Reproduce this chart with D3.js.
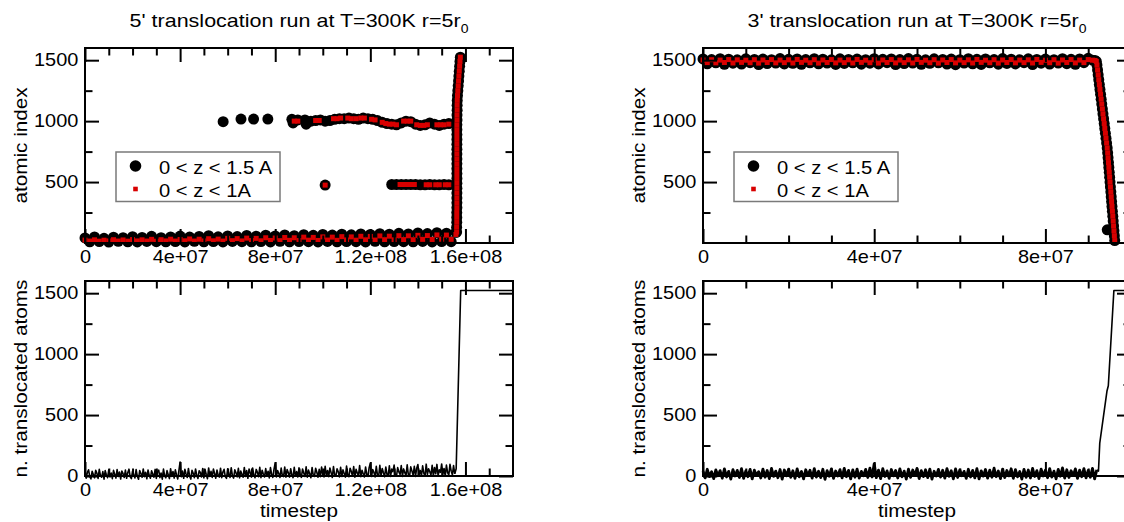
<!DOCTYPE html>
<html>
<head>
<meta charset="utf-8">
<script src="https://cdn.jsdelivr.net/npm/d3@7"></script>
<style>
  body { margin: 0; background: #fff; }
  svg { display: block; }
</style>
</head>
<body>
<svg id="chart" width="1124" height="522"></svg>
<script>
/*=================================
	DATA (time in units of 1e6 steps)
**===============================*/

var titles = ["5' translocation run at T=300K r=5r", "3' translocation run at T=300K r=5r"];
var legendLabels = ["0 < z < 1.5 A", "0 < z < 1A"];

var xTicks5 = [0, 40, 80, 120, 160],
	xTickLabels5 = ["0", "4e+07", "8e+07", "1.2e+08", "1.6e+08"];
var xTicks3 = [0, 40, 80],
	xTickLabels3 = ["0", "4e+07", "8e+07"];
var yTicksTop = [500, 1000, 1500],
	yTicksBot = [0, 500, 1000, 1500];

//5' run, atoms inside the pore, bottom band sampled every 2e6 steps
var band5Step = 2;
var black5 = [42, 10, 50, 12, 38, 8, 48, 14, 44, 10,
	52, 9, 46, 13, 55, 11, 43, 10, 50, 12,
	57, 9, 49, 14, 54, 10, 60, 12, 51, 9,
	58, 13, 53, 11, 62, 10, 56, 12, 64, 9,
	58, 14, 66, 10, 60, 12, 68, 11, 63, 9,
	70, 13, 65, 10, 72, 12, 67, 11, 74, 9,
	70, 14, 76, 10, 72, 12, 79, 11, 74, 10,
	82, 13, 77, 9, 85, 12, 80, 11, 88];
var red5 = [24, 16, 26, 15, 23, 17, 27, 16, 25, 15,
	28, 17, 26, 16, 30, 15, 27, 17, 31, 16,
	29, 18, 33, 16, 31, 17, 35, 18, 32, 16,
	38, 19, 36, 17, 40, 20, 38, 18, 43, 21,
	41, 19, 45, 22, 43, 20, 48, 23, 46, 21,
	50, 24, 48, 22, 52, 25, 50, 23, 55, 26,
	54, 24, 58, 27, 56, 26, 60, 28, 59, 27,
	63, 30, 61, 29, 66, 31, 65, 30, 70];
//the translocation jump
var rise5 = [[156.3,90],[156.3,130],[156.35,170],[156.35,210],[156.35,250],[156.4,290],[156.4,330],[156.4,370],
	[156.4,410],[156.4,450],[156.4,490],[156.4,530],[156.4,570],[156.4,610],[156.4,650],[156.4,690],[156.4,730],
	[156.4,770],[156.4,810],[156.4,850],[156.4,890],[156.4,930],[156.4,970],[156.45,1010],[156.45,1050],
	[156.5,1090],[156.5,1130],[156.55,1170],[156.65,1210],[156.8,1250],[156.95,1290],[157.1,1330],
	[157.25,1370],[157.4,1410],[157.55,1450],[157.7,1490],[157.85,1525]];
//side groups near index 1000 and 480
var black1000 = [[58.1,995],[65.6,1017],[70.9,1017],[76.9,1017],[87,1015],[87.5,985],[89.5,1010],[92.5,1010],
	[93,975],[95,1000],[97,1005],[99,1010],[101,1000],[103,1005],[105,1015],[107,1020],[109,1020],[111,1025],
	[113,1020],[115,1015],[117,1025],[119,1020],[121,1015],[123,1005],[125,990],[127,980],[129,975],[131,970],
	[133,985],[135,1000],[137,995],[139,975],[141,965],[143,970],[145,985],[147,975],[149,965],[151,975],[153,980]];
var red1000 = [[88,1000],[89.5,1000],[97,1005],[98.5,1005],[104.5,1020],[106,1020],[107.5,1025],[110.5,1025],
	[112,1020],[114,1020],[116,1025],[117.5,1025],[120.5,1015],[122,1010],[125,990],[126.5,980],[128,975],
	[129.5,975],[131,970],[134,1000],[135.5,1000],[137,1000],[139.5,970],[141,965],[142.5,965],[144,970],
	[148,970],[149.5,970],[151,970],[153,975]];
var black480 = [[101,475],[129,480],[131,480],[133,480],[135,480],[137,480],[139,480],[141,478],[143,478],
	[145,480],[147,478],[149,478],[151,480],[153,478]];
var red480 = [[101,475],[132.5,480],[134,480],[135.5,480],[137,480],[138.5,480],[143.5,478],[145,478],
	[147.5,478],[149,478],[151.5,478],[153,478]];

//3' run, top band sampled every 1e6 steps
var band3Step = 1;
var black3 = [1510, 1470, 1505, 1478, 1512, 1466, 1508, 1475, 1503, 1468,
	1511, 1480, 1506, 1464, 1509, 1472, 1504, 1477, 1513, 1469,
	1507, 1474, 1510, 1466, 1505, 1479, 1512, 1470, 1508, 1476,
	1503, 1465, 1511, 1473, 1506, 1478, 1509, 1467, 1504, 1475,
	1512, 1469, 1507, 1480, 1510, 1464, 1505, 1472, 1513, 1477,
	1508, 1466, 1503, 1474, 1511, 1479, 1506, 1468, 1509, 1463,
	1504, 1476, 1512, 1470, 1507, 1465, 1510, 1478, 1505, 1467,
	1513, 1473, 1508, 1469, 1503, 1480, 1511, 1464, 1506, 1475,
	1509, 1468, 1504, 1477, 1512, 1471, 1507, 1466, 1510, 1480,
	1515];
var red3 = [1502, 1480, 1504, 1478, 1501, 1481, 1505, 1477, 1503, 1482,
	1500, 1479, 1504, 1476, 1502, 1481, 1505, 1478, 1501, 1480,
	1503, 1477, 1506, 1482, 1500, 1479, 1504, 1476, 1502, 1481,
	1505, 1478, 1501, 1480, 1503, 1477, 1506, 1482, 1500, 1479,
	1504, 1476, 1502, 1481, 1505, 1478, 1501, 1480, 1503, 1477,
	1506, 1482, 1500, 1479, 1504, 1476, 1502, 1481, 1505, 1478,
	1501, 1480, 1503, 1477, 1506, 1482, 1500, 1479, 1504, 1476,
	1502, 1481, 1505, 1478, 1501, 1480, 1503, 1477, 1506, 1482,
	1500, 1479, 1504, 1476, 1502, 1481, 1505, 1478, 1501, 1480,
	1505];
var drop3 = [[91,1500],[91.6,1498],[91.9,1490],[92.05,1460],[92.19,1420],[92.33,1380],[92.47,1340],[92.61,1300],
	[92.75,1260],[92.89,1220],[93.03,1180],[93.17,1140],[93.31,1100],[93.45,1060],[93.6,1020],[93.74,980],
	[93.88,940],[94.02,900],[94.16,860],[94.3,820],[94.44,780],[94.55,740],[94.64,700],[94.74,660],[94.83,620],
	[94.92,580],[95.01,540],[95.1,500],[95.19,460],[95.29,420],[95.38,380],[95.47,340],[95.56,300],[95.65,260],
	[95.75,220],[95.84,180],[95.93,140],[96.02,100],[96.11,60],[96.2,20]];
var stray3 = [[94.45,108]];

//number of translocated atoms, 5' run (every 5e5 steps) then the jump
var noise5Step = 0.5;
var noise5 = [42,-18,30,51,-6,-24,38,12,-15,47,22,-20,55,3,-10,36,-26,44,8,-14,
	50,-8,25,-22,46,14,-17,53,-4,33,-25,41,19,-12,48,-19,28,56,-7,-21,
	39,10,-16,52,-2,-27,45,20,-11,58,-5,31,-23,49,6,-18,42,15,-9,54,
	-20,35,48,-13,24,-26,57,2,-15,44,11,-21,60,-3,37,-17,50,9,-24,46,
	115,-6,40,-19,55,16,-12,62,-1,-25,47,23,-14,58,5,-20,43,29,-8,61,
	-16,52,13,-22,66,-3,38,-11,57,21,-18,49,7,-9,64,-14,33,55,-5,-20,
	59,18,-12,68,1,-17,51,26,-7,63,-15,40,12,-10,70,-4,45,-19,58,24,
	-9,66,8,-14,54,30,-6,72,-13,47,16,-8,61,-2,39,-16,69,11,-11,57,
	108,-7,44,20,-12,65,3,-5,74,-10,52,27,-9,60,9,-13,71,-1,36,-8,
	67,14,-11,58,25,-4,76,-9,48,18,-14,70,6,-3,63,31,-10,55,-6,73,
	12,-8,80,2,45,-5,66,28,-12,78,5,-2,59,34,-7,72,-4,50,21,-9,
	82,8,-6,64,37,-1,77,-10,55,24,3,85,-5,46,19,-8,74,11,-3,68,
	105,-4,52,30,-7,79,8,-2,88,0,61,26,-6,74,14,-1,84,-3,57,35,
	90,5,-2,69,33,12,86,-4,58,28,3,92,8,-1,75,40,6,80,-3,64,
	94,10,44,0,83,22,-2,97,12,60,35,6,88,-1,70,18,95,2,51,30,
	99,14,62,-2,90,28,8,96,40,10,85,18];
var tail5T = [156.1, 158.0, 180],
	tail5N = [60, 1522, 1522];

//number of translocated atoms, 3' run (every 5e5 steps) then the jump
var noise3Step = 0.5;
var noise3 = [40, -15, 55, -5, 35, -22, 50, 2, 44, -18,
	58, -8, 38, -25, 52, 0, 46, -12, 60, -20,
	42, -6, 54, -24, 48, 4, 36, -16, 57, -10,
	45, -21, 62, -3, 40, -14, 53, -26, 49, 1,
	56, -11, 43, -19, 59, -7, 37, -23, 51, 3,
	47, -17, 61, -9, 39, -13, 55, -27, 44, -2,
	58, -20, 41, 0, 52, -15, 63, -6, 46, -24,
	50, -10, 57, -18, 38, 2, 54, -12, 65, -8,
	100, -14, 48, -22, 60, -4, 42, -19, 53, 1,
	45, -16, 59, -7, 40, -25, 56, -11, 49, 3,
	62, -21, 44, -5, 51, -13, 57, -26, 39, 0,
	54, -9, 47, -17, 61, -3, 43, -23, 58, -12,
	50, 2, 38, -20, 55, -8, 46, -15, 60, -24,
	42, -1, 53, -18, 48, -10, 64, -6, 41, -22,
	56, -13, 45, 1, 59, -19, 52, -7, 37, -25,
	55, -11, 49, -16, 62, -4, 44, -21, 57, 0,
	47, -14, 60, -9, 40, -23, 54, -2, 66, -17,
	51, -12, 43, 3, 58, -20, 48, -6, 61, -15,
	45, -10, 63, -24, 50];
var tail3T = [92.4, 92.7, 94.4, 94.7, 96.0, 100.5],
	tail3N = [40, 270, 700, 740, 1522, 1522];

/*=================================
	SETUP
**===============================*/

var FONT = '"Liberation Sans", Arial, Helvetica, sans-serif';
var K = 1.12; //the picture's lettering is a bit wider than plain Helvetica
var RED = "#d80000";

var svg = d3.select("#chart").attr("font-family", FONT);

var x5 = d3.scaleLinear().domain([0, 180]).range([85, 513]),
	x3 = d3.scaleLinear().domain([0, 100]).range([703, 1131]),
	yTop = d3.scaleLinear().domain([0, 1600]).range([243, 48]),
	yBot = d3.scaleLinear().domain([0, 1600]).range([476, 281]);

var minorX5 = d3.range(10, 180, 10).filter(function(d) { return d % 40 !== 0; }),
	minorX3 = d3.range(10, 100, 10).filter(function(d) { return d % 40 !== 0; }),
	minorY = [250, 750, 1250];

//turn a flat list sampled every `step` into [t, value] pairs
function sampled(values, step) {
	return values.map(function(v, i) { return [i * step, v]; });
}

/*=================================
	MARKERS & LINES
**===============================*/

function circles(x, y, pts) {
	svg.append("g").selectAll("circle").data(pts).join("circle")
		.attr("cx", function(d) { return x(d[0]); })
		.attr("cy", function(d) { return y(d[1]); })
		.attr("r", 5.5)
		.attr("fill", "#000");
}

function squares(x, y, pts) {
	var s = 5;
	svg.append("g").selectAll("rect").data(pts).join("rect")
		.attr("x", function(d) { return x(d[0]) - s / 2; })
		.attr("y", function(d) { return y(d[1]) - s / 2; })
		.attr("width", s).attr("height", s)
		.attr("fill", RED);
}

function trace(x, y, pts, w) {
	svg.append("path").datum(pts)
		.attr("fill", "none").attr("stroke", "#000").attr("stroke-width", w)
		.attr("stroke-linejoin", "round")
		.attr("d", d3.line().x(function(d) { return x(d[0]); }).y(function(d) { return y(d[1]); }));
}

//5' top
circles(x5, yTop, sampled(black5, band5Step).concat(rise5, black1000, black480));
squares(x5, yTop, sampled(red5, band5Step).concat(rise5, red1000, red480));
//3' top
circles(x3, yTop, sampled(black3, band3Step).concat(drop3, stray3));
squares(x3, yTop, sampled(red3, band3Step).concat(drop3));

//bottoms: the noisy part is drawn a bit heavier, like the dense original trace
var n5 = sampled(noise5, noise5Step),
	n3 = sampled(noise3, noise3Step);
trace(x5, yBot, n5, 1.6);
trace(x5, yBot, n5.slice(-1).concat(d3.zip(tail5T, tail5N)), 1.6);
trace(x3, yBot, n3, 2.8);
trace(x3, yBot, n3.slice(-1).concat(d3.zip(tail3T, tail3N)), 1.6);

/*=================================
	FRAMES & TICKS
**===============================*/

function frame(x, y, xMajor, xLabels, xMinor, yMajor, yLabels) {
	var X0 = x.range()[0], X1 = x.range()[1], Yt = y.range()[1], Yb = y.range()[0];
	var g = svg.append("g");

	function axis(gen, tx, ty, values, len, labels, pad) {
		var a = gen.tickValues(values).tickSizeInner(-len).tickSizeOuter(0).tickPadding(pad || 0)
			.tickFormat(function(d, i) { return labels ? labels[i] : ""; });
		var ag = g.append("g").attr("transform", "translate(" + tx + "," + ty + ")").call(a);
		ag.attr("font-size", 17.8).attr("font-family", FONT);
		ag.select(".domain").remove();
		ag.selectAll(".tick line").attr("stroke-width", 2);
		ag.selectAll(".tick text").attr("transform", "scale(" + K + ",1)");
	}

	axis(d3.axisBottom(x), 0, Yb, xMinor, 7.5);
	axis(d3.axisTop(x), 0, Yt, xMinor, 7.5);
	axis(d3.axisLeft(y), X0, 0, minorY, 7.5);
	axis(d3.axisRight(y), X1, 0, minorY, 7.5);
	axis(d3.axisBottom(x), 0, Yb, xMajor, 14, xLabels, 7);
	axis(d3.axisTop(x), 0, Yt, xMajor, 14);
	axis(d3.axisLeft(y), X0, 0, yMajor, 14, yLabels, 6);
	axis(d3.axisRight(y), X1, 0, yMajor, 14);

	g.append("rect")
		.attr("x", X0).attr("y", Yt).attr("width", X1 - X0).attr("height", Yb - Yt)
		.attr("fill", "none").attr("stroke", "#000").attr("stroke-width", 2);
}

frame(x5, yTop, xTicks5, xTickLabels5, minorX5, yTicksTop, yTicksTop.map(String));
frame(x5, yBot, xTicks5, xTickLabels5, minorX5, yTicksBot, yTicksBot.map(String));
frame(x3, yTop, xTicks3, xTickLabels3, minorX3, yTicksTop, yTicksTop.map(String));
frame(x3, yBot, xTicks3, xTickLabels3, minorX3, yTicksBot, yTicksBot.map(String));

/*=================================
	LEGENDS
**===============================*/

function legend(x, y) {
	var lg = svg.append("g")
		.attr("transform", "translate(" + (x.range()[0] + 31) + "," + (y.range()[1] + 104) + ")");
	lg.append("rect").attr("width", 164).attr("height", 49.5)
		.attr("fill", "#fff").attr("stroke", "#7a7a7a").attr("stroke-width", 1.5);
	lg.append("circle").attr("cx", 19.5).attr("cy", 14).attr("r", 5.8).attr("fill", "#000");
	lg.append("rect").attr("x", 17.2).attr("y", 34.7).attr("width", 4.6).attr("height", 4.6).attr("fill", RED);
	lg.selectAll("text").data(legendLabels).join("text")
		.attr("transform", function(d, i) { return "translate(43," + (22 + i * 23) + ") scale(" + K + ",1)"; })
		.attr("font-size", 18)
		.text(function(d) { return d; });
}

legend(x5, yTop);
legend(x3, yTop);

/*=================================
	TITLES & AXIS LABELS
**===============================*/

function label(txt, tx, ty, rot, size) {
	return svg.append("text")
		.attr("transform", "translate(" + tx + "," + ty + ")" + (rot ? " rotate(-90)" : "") + " scale(" + K + ",1)")
		.attr("text-anchor", "middle")
		.attr("font-size", size)
		.text(txt);
}

[x5, x3].forEach(function(x, i) {
	var cx = (x.range()[0] + x.range()[1]) / 2,
		left = x.range()[0];
	var t = label(titles[i], cx, 27, false, 19.2);
	t.append("tspan").attr("font-size", 12.5).attr("dy", 6).text("0");

	label("atomic index", left - 58.3, (yTop.range()[0] + yTop.range()[1]) / 2, true, 18.5);
	label("n. translocated atoms", left - 58.3, (yBot.range()[0] + yBot.range()[1]) / 2, true, 18.5);
	label("timestep", cx, 517, false, 18.5);
});
</script>
</body>
</html>
